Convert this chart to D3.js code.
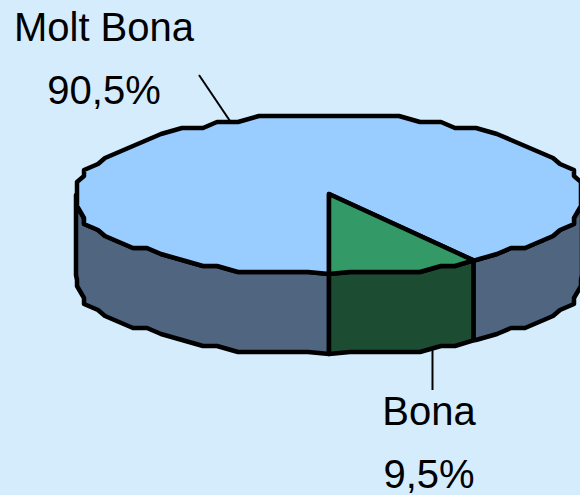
<!DOCTYPE html>
<html><head><meta charset="utf-8">
<script src="https://cdn.jsdelivr.net/npm/d3@7"></script>
<style>html,body{margin:0;padding:0;background:#D5ECFD}svg{display:block}text{font-family:"Liberation Sans",Arial,sans-serif;font-size:40px;fill:#000}</style>
</head><body><div id="chart"></div>
<script>
const categories = ["Molt Bona", "Bona"];
const values = [90.5, 9.5];
const valueLabels = ["90,5%", "9,5%"];
const topColors = ["#99CCFF", "#339966"];
const sideColors = ["#4F6580", "#1C4D33"];

const W = 580, H = 495;
const svg = d3.select("#chart").append("svg").attr("width", W).attr("height", H);
svg.append("rect").attr("width", W).attr("height", H).attr("fill", "#D5ECFD");

const cx = 329, cy = 195, rx = 257, ry = 79, depth = 80;
const xMin = 76, xMax = 582;
const pie = d3.pie().sort(null).value(d => d).startAngle(Math.PI).endAngle(3 * Math.PI);
const arcs = pie(values);

// Coarse device grid that gives the outline its stepped metafile look
const gx = 7, gy = 6;
const snap = (v, g, o) => Math.round((v - o) / g) * g + o;
const STEP = Math.PI / 36;
const clampX = x => Math.max(xMin, Math.min(xMax, x));
const exact = a => [clampX(cx + rx * Math.sin(a)), cy - ry * Math.cos(a)];
function rim(a) {
  const p = exact(a);
  return [clampX(snap(p[0], gx, cx)), snap(p[1], gy, cy - ry)];
}
function rimPoints(a0, a1) {
  const pts = [exact(a0)];
  const k0 = Math.ceil(a0 / STEP - 1e-6), k1 = Math.floor(a1 / STEP + 1e-6);
  for (let k = k0; k <= k1; k++) {
    const a = k * STEP;
    if (a > a0 + 1e-6 && a < a1 - 1e-6) pts.push(rim(a));
  }
  pts.push(exact(a1));
  return pts;
}
const line = d3.line();
const strokeW = 4.5;

function side(a0, a1, color) {
  const from = Math.max(a0, Math.PI / 2), to = Math.min(a1, 3 * Math.PI / 2);
  if (to <= from) return;
  const pts = rimPoints(from, to);
  const lower = pts.map(p => [p[0], p[1] + depth]).reverse();
  svg.append("path").attr("d", line(pts.concat(lower)) + "Z")
    .attr("fill", color).attr("stroke", "#000").attr("stroke-width", strokeW).attr("stroke-linejoin", "round");
}
// Side walls: large slice is split in two parts by the small slice
const big = arcs[0], small = arcs[1];
side(big.startAngle, big.endAngle, sideColors[0]);
side(big.startAngle - 2 * Math.PI, big.endAngle - 2 * Math.PI, sideColors[0]);
side(small.startAngle - 2 * Math.PI, small.endAngle - 2 * Math.PI, sideColors[1]);
side(small.startAngle, small.endAngle, sideColors[1]);

arcs.forEach((d, i) => {
  const pts = rimPoints(d.startAngle, d.endAngle);
  svg.append("path").attr("d", line([[cx, cy - 1]].concat(pts)) + "Z")
    .attr("fill", topColors[i]).attr("stroke", "#000").attr("stroke-width", strokeW).attr("stroke-linejoin", "round");
});

// Leader lines and labels
svg.append("line").attr("x1", 199).attr("y1", 75).attr("x2", 230).attr("y2", 121).attr("stroke", "#000").attr("stroke-width", 2);
svg.append("line").attr("x1", 432.5).attr("y1", 350).attr("x2", 432.5).attr("y2", 390).attr("stroke", "#000").attr("stroke-width", 2);

const labelAnchor = [[104, 41, 104], [429, 425, 488]];
categories.forEach((c, i) => {
  svg.append("text").attr("x", labelAnchor[i][0]).attr("y", labelAnchor[i][1]).attr("text-anchor", "middle").text(c);
  svg.append("text").attr("x", labelAnchor[i][0]).attr("y", labelAnchor[i][2]).attr("text-anchor", "middle").text(valueLabels[i]);
});
</script></body></html>
